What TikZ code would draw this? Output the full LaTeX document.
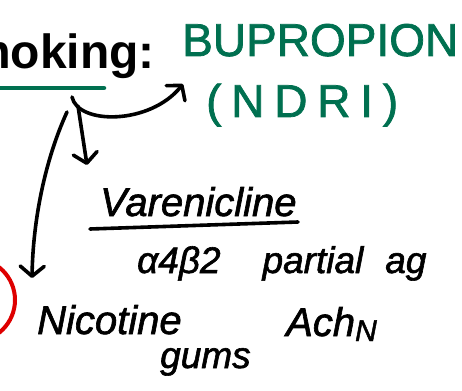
\documentclass[tikz,border=0pt]{standalone}
\usepackage{fontspec}
\setmainfont{Liberation Sans}
\newfontfamily\penfont{Liberation Sans}[FakeBold=1.6]
\usetikzlibrary{arrows.meta}
\definecolor{penGreen}{RGB}{0,112,80}
\definecolor{penRed}{RGB}{222,0,0}
\tikzset{
  ink/.style={line width=3.6pt, line cap=round, line join=round, draw=black},
  pointer/.style={ink, -{Straight Barb[length=10pt,width=24pt,line cap=round,line join=round]}},
  heading/.style={inner sep=0pt, anchor=base east, font=\bfseries\fontsize{48}{52}\selectfont},
  greenhand/.style={inner sep=0pt, anchor=base west, text=penGreen, font=\penfont\fontsize{46}{48}\selectfont},
  hand/.style={inner sep=0pt, anchor=base west, font=\penfont\itshape\fontsize{#1}{#1}\selectfont},
}
\begin{document}
\begin{tikzpicture}[x=1pt,y=-1pt]
  \useasboundingbox (0,0) rectangle (462,390);
  \clip (0,0) rectangle (462,390);

  % title and its underline
  \node[heading] (title) at (155,69) {Smoking:};
  \draw[line width=4.5pt, line cap=round, draw=penGreen] (-5,88) -- (104,88);

  % green annotation
  \node[greenhand] (bup) at (182,56) {\makebox[273pt][s]{B\hfill U\hfill P\hfill R\hfill O\hfill P\hfill I\hfill O\hfill N}};
  \node[greenhand] (ndri) at (206,117) {\makebox[192pt][s]{(\hfill N\hfill D\hfill R\hfill I\hfill )}};

  % handwritten options
  \node[hand=40] (vare) at (100,216) {Varenicline};
  \draw[ink] (90,229) -- (298,222);
  \node[hand=37] (mech) at (137,273) {α4β2\hspace{42pt}partial\hspace{22pt}ag};
  \node[hand=40] (nico) at (37,334) {Nicotine};
  \node[hand=37] (gums) at (160,368) {gums};
  \node[hand=40] (ach) at (286,336) {Ach\raisebox{-5pt}{\fontsize{30}{30}\selectfont N}};

  % branching arrows
  \coordinate (forkA) at (72,97);
  \coordinate (forkB) at (78,106);
  \coordinate (forkC) at (67,112);
  \coordinate (toBup) at (183,84);
  \coordinate (toVare) at (87,165);
  \coordinate (toNico) at (32,278);
  \draw[pointer] (forkA) .. controls (78,125) and (150,125) .. (toBup);
  \draw[pointer] (forkB) -- (toVare);
  \draw[pointer] (forkC) .. controls (45,160) and (33,220) .. (toNico);

  % red ring at the left edge
  \draw[line width=4pt, draw=penRed] (-26.6,300) circle[radius=41.6];
\end{tikzpicture}
\end{document}
